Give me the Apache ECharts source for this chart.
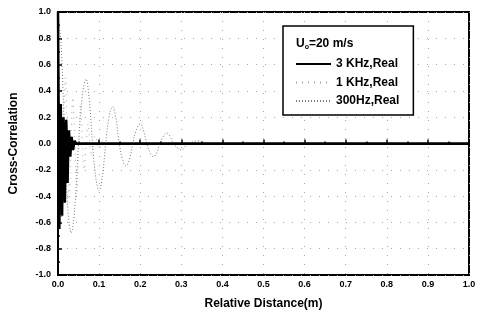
<!DOCTYPE html>
<html>
<head>
<meta charset="utf-8">
<script src="https://cdn.jsdelivr.net/npm/echarts@6/dist/echarts.min.js"></script>
<style>
html,body{margin:0;padding:0;background:#fff;}
#main{width:488px;height:316px;}
</style>
</head>
<body>
<div id="main"></div>
<script>
// 3 KHz (solid black)
var dist3k = [0, 0.0017, 0.0033, 0.005, 0.0067, 0.0083, 0.01, 0.0117, 0.0133, 0.015, 0.0167, 0.0183, 0.02, 0.0217, 0.0233, 0.025, 0.0267, 0.0283, 0.03, 0.0317, 0.0333, 0.035, 0.0367, 0.04, 0.045, 1.0];
var corr3k = [1.0, 0.2, -0.65, 0.0, 0.3, -0.05, -0.55, 0.0, 0.2, 0.0, -0.45, 0.0, 0.18, 0.0, -0.3, 0.0, 0.1, 0.0, -0.1, 0.0, 0.05, 0.0, -0.05, 0.02, 0.0, 0.0];
// 1 KHz
var dist1k = [0, 0.0045, 0.009, 0.0135, 0.018, 0.0225, 0.027, 0.0315, 0.036, 0.041, 0.046, 0.0505, 0.055, 0.0595, 0.064, 0.0685, 0.073, 0.0775, 0.082, 0.0865, 0.091, 0.1, 0.11, 0.12, 1.0];
var corr1k = [1.0, 0.15, -0.6, 0.0, 0.5, 0.0, -0.45, 0.0, 0.35, 0.0, -0.38, 0.0, 0.3, 0.0, -0.2, 0.0, 0.15, 0.0, -0.1, 0.0, 0.06, -0.04, 0.02, 0.0, 0.0];
// 300Hz
var dist300 = [0, 0.008, 0.016, 0.024, 0.032, 0.041, 0.05, 0.059, 0.068, 0.076, 0.084, 0.092, 0.1, 0.108, 0.116, 0.124, 0.133, 0.141, 0.149, 0.157, 0.165, 0.174, 0.182, 0.19, 0.2, 0.208, 0.216, 0.224, 0.232, 0.24, 0.248, 0.257, 0.265, 0.273, 0.281, 0.29, 0.3, 0.31, 0.32, 0.34, 0.37, 1.0];
var corr300 = [1.0, 0.72, 0.05, -0.5, -0.68, -0.48, 0.0, 0.36, 0.49, 0.34, 0.0, -0.26, -0.36, -0.25, 0.0, 0.2, 0.28, 0.19, 0.0, -0.12, -0.17, -0.12, 0.0, 0.1, 0.15, 0.1, 0.0, -0.07, -0.1, -0.07, 0.0, 0.06, 0.08, 0.05, 0.0, -0.03, -0.05, -0.02, 0.0, 0.02, 0.0, 0.0];

var seriesNames = ['3 KHz,Real', '1 KHz,Real', '300Hz,Real'];

function pairs(xs, ys) {
    var out = [];
    for (var i = 0; i < xs.length; i++) {
        out.push([xs[i], ys[i]]);
    }
    return out;
}

var myChart = echarts.init(document.getElementById('main'));
var font = 'Liberation Sans, Arial, sans-serif';

var option = {
    animation: false,
    backgroundColor: '#fff',
    grid: {
        left: 57, right: 19, top: 12, bottom: 41,
        show: true, borderColor: '#000', borderWidth: 2
    },
    legend: {
        data: seriesNames,
        orient: 'vertical',
        left: 283, top: 26,
        padding: [32, 14, 8, 12],
        itemWidth: 35, itemHeight: 14, itemGap: 6.5,
        itemStyle: {opacity: 0},
        borderColor: '#000', borderWidth: 1.5,
        backgroundColor: '#fff',
        textStyle: {fontFamily: font, fontSize: 12, fontWeight: 'bold', color: '#000'}
    },
    graphic: [{
        type: 'text',
        left: 296, top: 38,
        z: 100,
        style: {
            text: '{a|U}{b|o}{a|=20 m/s}',
            rich: {
                a: {fontFamily: font, fontSize: 12, fontWeight: 'bold', fill: '#000'},
                b: {fontFamily: font, fontSize: 7, fontWeight: 'bold', fill: '#000', padding: [6, 0, 0, 0]}
            }
        }
    }],
    xAxis: {
        type: 'value', min: 0, max: 1, interval: 0.1,
        name: 'Relative Distance(m)', nameLocation: 'middle', nameGap: 23,
        nameTextStyle: {fontFamily: font, fontSize: 12, fontWeight: 'bold', color: '#000'},
        axisLine: {lineStyle: {color: '#000', width: 2}},
        axisTick: {inside: true, length: 4, lineStyle: {color: '#000', width: 1.5}},
        minorTick: {show: true, splitNumber: 2, length: 2, lineStyle: {color: '#000', width: 1.5}},
        axisLabel: {fontFamily: font, fontSize: 9, fontWeight: 'bold', color: '#000', margin: 5,
            formatter: function (v) { return v.toFixed(1); }},
        splitLine: {show: true, lineStyle: {color: '#aaa', width: 1, type: [1, 8]}}
    },
    yAxis: {
        type: 'value', min: -1, max: 1, interval: 0.2,
        name: 'Cross-Correlation', nameLocation: 'middle', nameGap: 38,
        nameTextStyle: {fontFamily: font, fontSize: 12, fontWeight: 'bold', color: '#000'},
        axisLine: {lineStyle: {color: '#000', width: 2}},
        axisTick: {inside: true, length: 4, lineStyle: {color: '#000', width: 1.5}},
        minorTick: {show: true, splitNumber: 2, length: 2, lineStyle: {color: '#000', width: 1.5}},
        axisLabel: {fontFamily: font, fontSize: 9, fontWeight: 'bold', color: '#000', margin: 7,
            formatter: function (v) { return v.toFixed(1); }},
        splitLine: {show: true, lineStyle: {color: '#aaa', width: 1, type: [1, 8]}}
    },
    series: [
        {
            name: '300Hz,Real', type: 'line', symbol: 'none', smooth: 0.4,
            data: pairs(dist300, corr300), z: 2,
            itemStyle: {color: '#777'},
            lineStyle: {color: '#777', width: 1, type: [1, 2]}
        },
        {
            name: '1 KHz,Real', type: 'line', symbol: 'none', smooth: 0.4,
            data: pairs(dist1k, corr1k), z: 3,
            itemStyle: {color: '#aaa'},
            lineStyle: {color: '#aaa', width: 1, type: [1, 5]}
        },
        {
            name: '3 KHz,Real', type: 'line', symbol: 'none',
            data: pairs(dist3k, corr3k), z: 4,
            itemStyle: {color: '#000'},
            lineStyle: {color: '#000', width: 2.5}
        }
    ]
};
myChart.setOption(option);
</script>
</body>
</html>
